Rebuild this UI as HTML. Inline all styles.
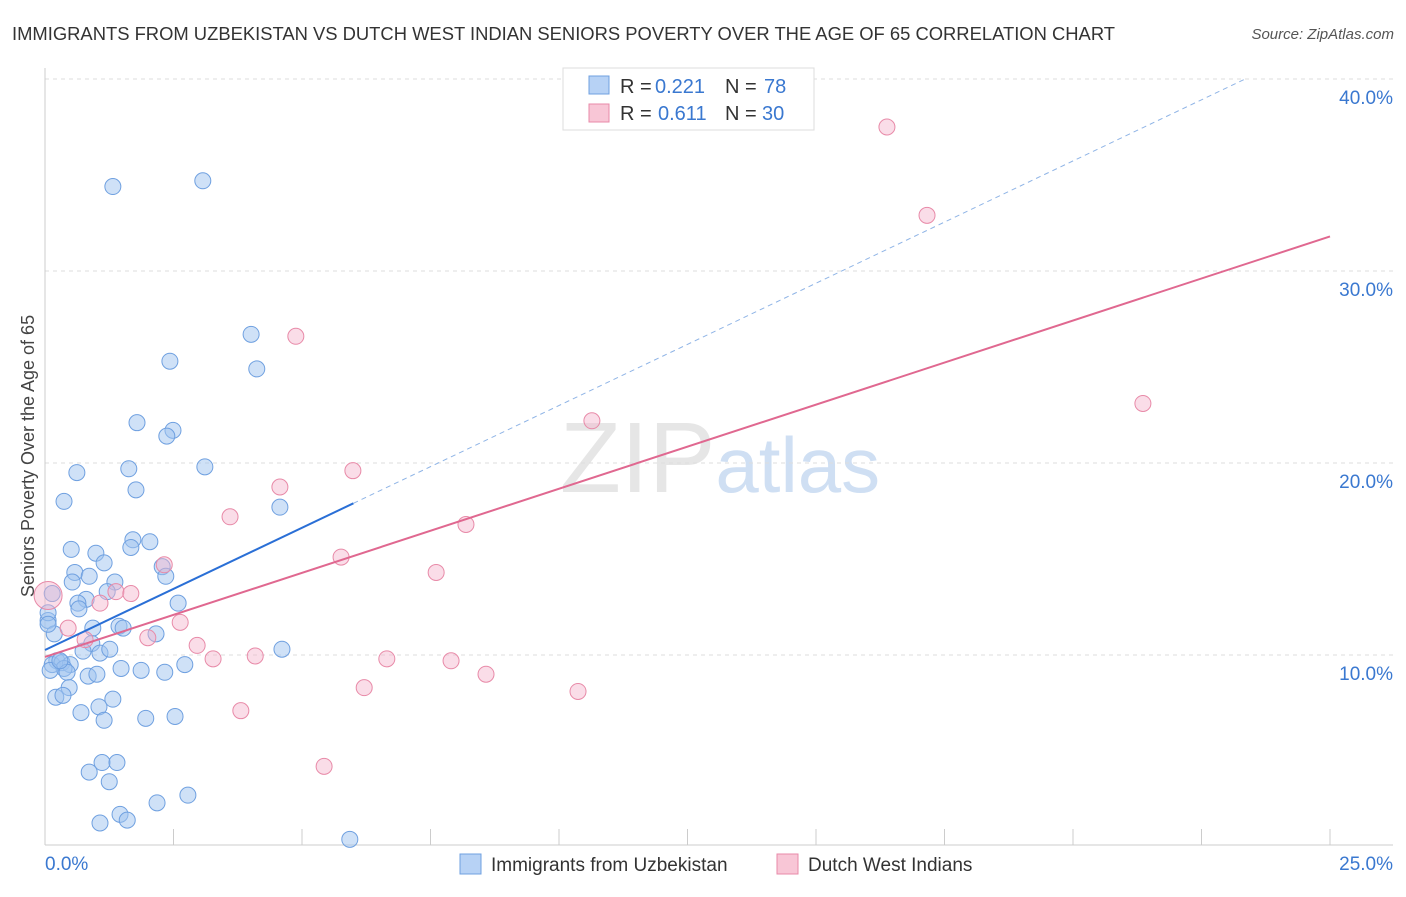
<!DOCTYPE html>
<html><head><meta charset="utf-8"><style>
body{margin:0;background:#fff;font-family:"Liberation Sans",sans-serif;}
svg text{font-family:"Liberation Sans",sans-serif;}
</style></head><body>
<svg id="chart" width="1406" height="892" xmlns="http://www.w3.org/2000/svg">
<text x="12" y="40" font-size="18.4" fill="#333" textLength="1103" lengthAdjust="spacingAndGlyphs">IMMIGRANTS FROM UZBEKISTAN VS DUTCH WEST INDIAN SENIORS POVERTY OVER THE AGE OF 65 CORRELATION CHART</text>
<text x="1394" y="39" font-size="15" fill="#555" text-anchor="end" font-style="italic">Source: ZipAtlas.com</text>
<text x="720" y="492" font-size="100" text-anchor="middle" fill="#e6e6e6" font-family="Liberation Serif,serif">ZIP<tspan fill="#cfdff3" font-family="Liberation Sans,sans-serif" font-size="78">atlas</tspan></text>
<text transform="translate(34,456) rotate(-90)" font-size="18" fill="#444" text-anchor="middle">Seniors Poverty Over the Age of 65</text>
<g id="grid"></g><g id="marks"></g>
<g>
<rect x="563" y="68" width="251" height="62" fill="#fff" stroke="#ddd"/>
<rect x="589" y="76" width="20" height="18" fill="#b7d2f5" stroke="#6fa0e0"/>
<text x="620" y="93" font-size="20" fill="#333">R =</text><text x="655" y="93" font-size="20" fill="#3a78d0">0.221</text>
<text x="725" y="93" font-size="20" fill="#333">N =</text><text x="764" y="93" font-size="20" fill="#3a78d0">78</text>
<rect x="589" y="104" width="20" height="18" fill="#f8c6d6" stroke="#e88aa8"/>
<text x="620" y="120" font-size="20" fill="#333">R =</text><text x="658" y="120" font-size="20" fill="#3a78d0">0.611</text>
<text x="725" y="120" font-size="20" fill="#333">N =</text><text x="762" y="120" font-size="20" fill="#3a78d0">30</text>
</g>
<g>
<rect x="460" y="854" width="21" height="20" fill="#b7d2f5" stroke="#6fa0e0"/>
<text x="491" y="871" font-size="19" fill="#333">Immigrants from Uzbekistan</text>
<rect x="777" y="854" width="21" height="20" fill="#f8c6d6" stroke="#e88aa8"/>
<text x="808" y="871" font-size="19" fill="#333">Dutch West Indians</text>
</g>
</svg>
<script>
const blueX=[1.32,3.07,4.01,2.43,4.12,1.79,2.49,2.37,3.11,1.63,0.62,1.77,0.37,4.57,1.71,2.04,1.67,0.51,0.99,1.15,2.28,2.35,0.58,0.86,0.53,1.36,1.21,0.14,0.80,0.64,0.66,2.59,0.06,1.44,1.52,0.93,0.18,2.16,0.91,0.74,1.07,4.61,0.23,0.14,0.33,0.49,0.37,0.43,1.48,1.87,2.72,2.33,0.10,0.84,1.01,0.47,0.21,0.35,1.32,1.05,0.70,1.96,2.53,1.15,1.11,1.40,0.86,1.25,2.78,2.18,1.46,1.60,1.07,5.93,0.06,0.06,0.29,1.26];
const blueY=[34.4,34.7,26.7,25.3,24.9,22.1,21.7,21.4,19.8,19.7,19.5,18.6,18.0,17.7,16.0,15.9,15.6,15.5,15.3,14.8,14.6,14.1,14.3,14.1,13.8,13.8,13.3,13.2,12.9,12.7,12.4,12.7,11.8,11.5,11.4,11.4,11.1,11.1,10.6,10.2,10.1,10.3,9.7,9.5,9.6,9.5,9.3,9.1,9.3,9.2,9.5,9.1,9.2,8.9,9.0,8.3,7.8,7.9,7.7,7.3,7.0,6.7,6.8,6.6,4.4,4.4,3.9,3.4,2.7,2.3,1.7,1.4,1.25,0.4,12.2,11.6,9.7,10.3];
const pinkX=[16.38,17.16,4.88,21.36,10.64,5.99,4.57,8.19,3.60,5.76,2.32,7.61,1.38,1.67,1.07,2.63,0.45,2.00,2.96,3.27,4.09,6.65,7.90,8.58,6.21,10.37,3.81,5.43,0.06,0.78];
const pinkY=[37.5,32.9,26.6,23.1,22.2,19.6,18.75,16.8,17.2,15.1,14.7,14.3,13.3,13.2,12.7,11.7,11.4,10.9,10.5,9.8,9.95,9.8,9.7,9.0,8.3,8.1,7.1,4.2,13.1,10.8];
const pinkR=[8,8,8,8,8,8,8,8,8,8,8,8,8,8,8,8,8,8,8,8,8,8,8,8,8,8,8,8,14,8];
const yTicks=[10,20,30,40];
const xTickLabels=["0.0%","25.0%"];
const blueLine=[[0,10.26],[6.0,17.9]];
const blueDash=[[6.0,17.9],[23.35,40.0]];
const pinkLine=[[0,9.9],[25,31.8]];
const NS="http://www.w3.org/2000/svg";
const X=v=>45+v*51.4, Y=v=>847-v*19.2;
const grid=document.getElementById('grid'), marks=document.getElementById('marks');
function mk(tag,attrs,parent){const e=document.createElementNS(NS,tag);for(const k in attrs)e.setAttribute(k,attrs[k]);parent.appendChild(e);return e;}
yTicks.forEach(t=>{
 const l=mk('line',{x1:45,x2:1393,y1:Y(t),y2:Y(t),stroke:'#ddd','stroke-dasharray':'4,4'},grid);
 
 
 const tx=mk('text',{x:1393,y:Y(t)+25,'font-size':19,fill:'#3a78d0','text-anchor':'end'},grid);
 tx.textContent=t.toFixed(1)+'%';
 
 
});
mk('line',{x1:45,x2:45,y1:68,y2:845,stroke:'#ccc'},grid);
mk('line',{x1:45,x2:1393,y1:845,y2:845,stroke:'#ccc'},grid);
for(let i=0;i<=10;i++){mk('line',{x1:X(i*2.5),x2:X(i*2.5),y1:829,y2:845,stroke:'#ccc'},grid);}
const xl0=mk('text',{x:45,y:870,'font-size':19,fill:'#3a78d0'},grid);xl0.textContent=xTickLabels[0];


const xl1=mk('text',{x:1393,y:870,'font-size':19,fill:'#3a78d0','text-anchor':'end'},grid);xl1.textContent=xTickLabels[1];


blueX.forEach((v,i)=>{
 const c=mk('circle',{cx:X(v),cy:Y(blueY[i]),r:8,fill:'rgba(160,196,240,0.5)',stroke:'#6fa0e0','stroke-width':1},marks);
 
 
});
pinkX.forEach((v,i)=>{
 const c=mk('circle',{cx:X(v),cy:Y(pinkY[i]),r:pinkR[i],fill:'rgba(245,180,204,0.45)',stroke:'#e88aa8','stroke-width':1},marks);
 
 
});
const bl=mk('line',{x1:X(blueLine[0][0]),y1:Y(blueLine[0][1]),x2:X(blueLine[1][0]),y2:Y(blueLine[1][1]),stroke:'#2a6fd6','stroke-width':2},marks);


const bd=mk('line',{x1:X(blueDash[0][0]),y1:Y(blueDash[0][1]),x2:X(blueDash[1][0]),y2:Y(blueDash[1][1]),stroke:'#8fb4e6','stroke-width':1,'stroke-dasharray':'5,4'},marks);


const pl=mk('line',{x1:X(pinkLine[0][0]),y1:Y(pinkLine[0][1]),x2:X(pinkLine[1][0]),y2:Y(pinkLine[1][1]),stroke:'#e06890','stroke-width':2},marks);


</script>
</body></html>
